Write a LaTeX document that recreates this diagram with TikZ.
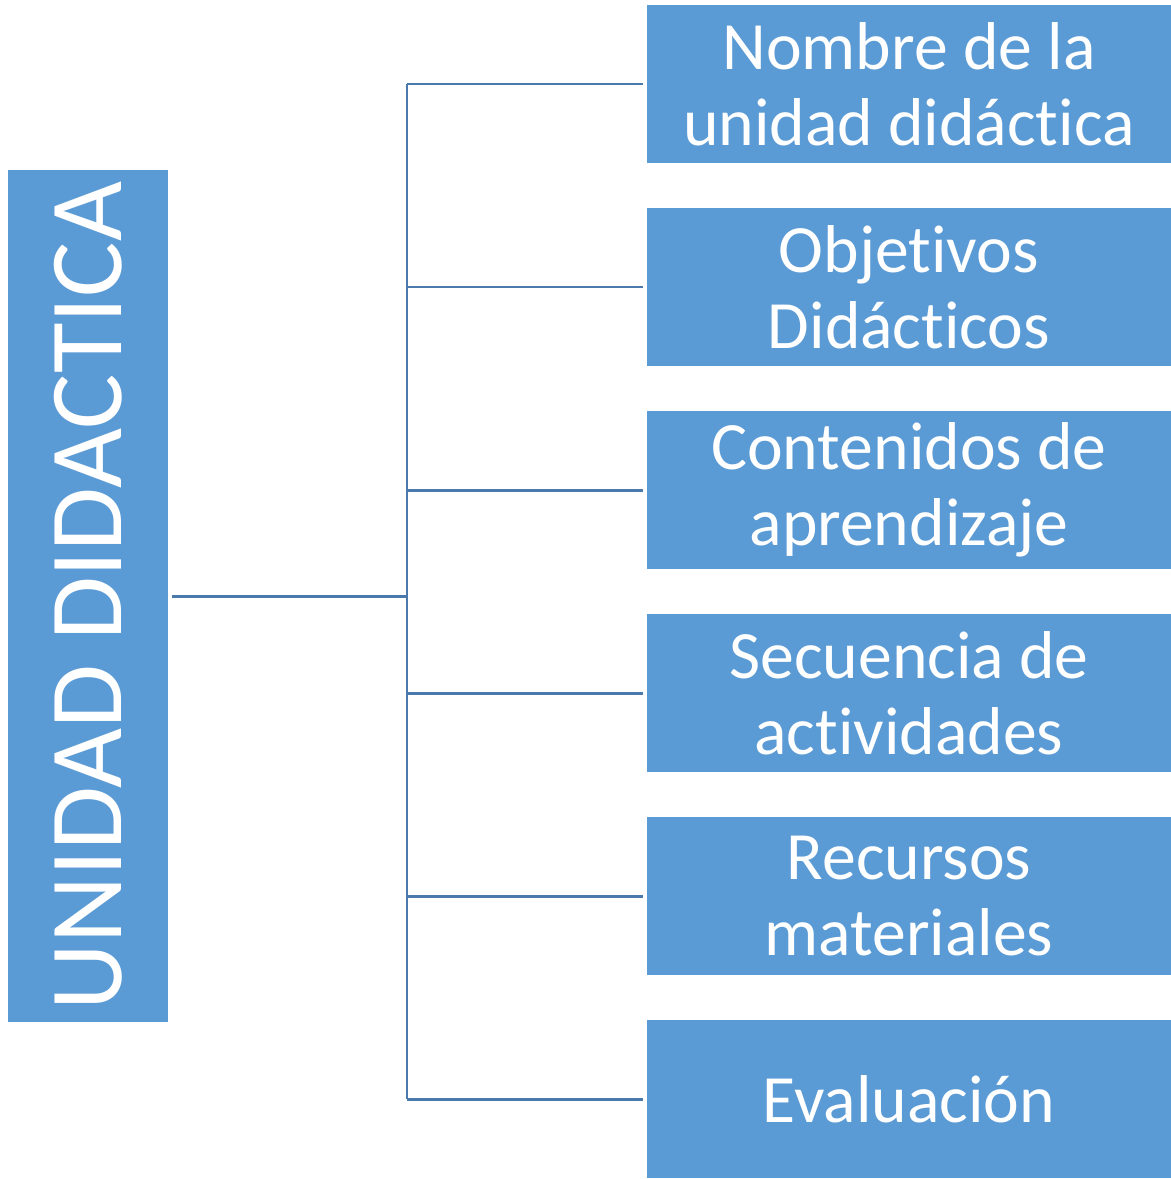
\documentclass[tikz,border=0pt]{standalone}
\usepackage{fontspec}
\setmainfont{Carlito}[Ligatures={CommonOff,ContextualOff,RareOff},Contextuals=AlternateOff]
\usetikzlibrary{positioning}
\definecolor{boxblue}{HTML}{5B9BD5}
\definecolor{linkblue}{HTML}{4A7AAB}

\begin{document}
\begin{tikzpicture}[
  part/.style={fill=boxblue,draw=none,outer sep=0pt,inner sep=0pt,
    minimum width=10.48cm,minimum height=3.16cm,text=white,align=center,
    font=\fontsize{38.5}{43}\selectfont},
  mainbox/.style={fill=boxblue,draw=none,outer sep=0pt,inner sep=0pt,rotate=90,
    minimum width=17.04cm,minimum height=3.2cm,text=white,
    font=\fontsize{59}{64}\selectfont},
  link/.style={draw=linkblue,line width=1.7pt}
]
\useasboundingbox (0,0) rectangle (23.42,-23.58);
\node[mainbox] (unidad) at (1.76,-11.92) {UNIDAD DIDACTICA};
\node[part] (nombre) at (18.18,-1.68) {Nombre de la\\unidad didáctica};
\node[part,below=0.9cm of nombre] (objetivos) {Objetivos\\Didácticos};
\node[part,below=0.9cm of objetivos] (contenidos) {Contenidos de\\aprendizaje};
\node[part,below=0.9cm of contenidos] (secuencia) {Secuencia de\\actividades};
\node[part,below=0.9cm of secuencia] (recursos) {Recursos\\materiales};
\node[part,below=0.9cm of recursos] (evaluacion) {Evaluación};
\coordinate (trunk) at (8.14,-11.92);
% tree lines
\draw[link,shorten <=0.08cm] (unidad.south) -- (trunk);
\draw[link] (trunk |- nombre.west) -- (trunk |- evaluacion.west);
\draw[link,shorten >=0.08cm] (trunk |- nombre.west) -- (nombre.west);
\draw[link,shorten >=0.08cm] (trunk |- objetivos.west) -- (objetivos.west);
\draw[link,shorten >=0.08cm] (trunk |- contenidos.west) -- (contenidos.west);
\draw[link,shorten >=0.08cm] (trunk |- secuencia.west) -- (secuencia.west);
\draw[link,shorten >=0.08cm] (trunk |- recursos.west) -- (recursos.west);
\draw[link,shorten >=0.08cm] (trunk |- evaluacion.west) -- (evaluacion.west);
\end{tikzpicture}
\end{document}
